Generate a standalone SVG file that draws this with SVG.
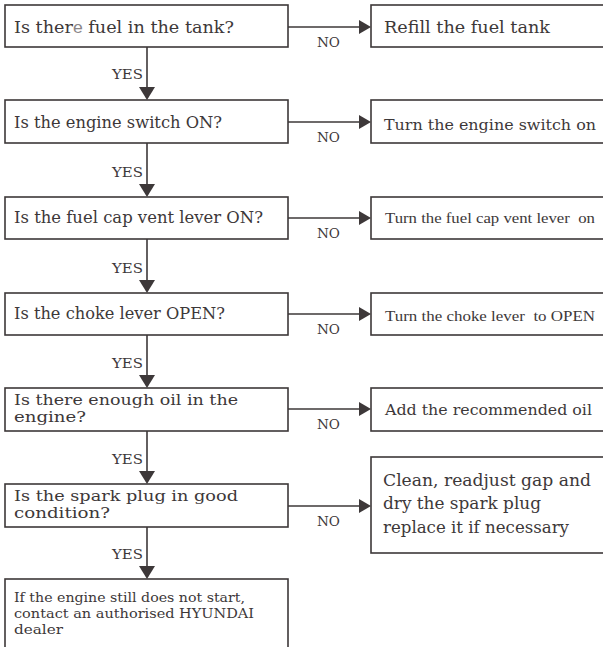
<svg xmlns="http://www.w3.org/2000/svg" width="603" height="647" viewBox="0 0 603 647">
<style>
.box{fill:#fff;stroke:#3d3839;stroke-width:1.6}
.t{font-family:"DejaVu Serif","Liberation Serif",serif;fill:#3d3839;font-size:17px}
.t2{font-family:"DejaVu Serif","Liberation Serif",serif;fill:#3d3839;font-size:14.5px}
.s{font-family:"DejaVu Serif","Liberation Serif",serif;fill:#3d3839;font-size:15px}
.e{font-family:"DejaVu Serif","Liberation Serif",serif;fill:#3d3839;font-size:13.5px}
.n{font-family:"Liberation Serif","DejaVu Serif",serif;fill:#3d3839;font-size:15.5px}
.lab{font-family:"DejaVu Serif","Liberation Serif",serif;fill:#3d3839;font-size:13px}
.ln{stroke:#3d3839;stroke-width:1.6;fill:none}
.hd{fill:#3d3839}
</style>
<rect width="603" height="647" fill="#fff"/>
<g id="connectors">
<path class="ln" d="M147,47 V87"/><path class="hd" d="M139,87 L155,87 L147,100 z"/>
<path class="ln" d="M147,143 V184"/><path class="hd" d="M139,184 L155,184 L147,197 z"/>
<path class="ln" d="M147,239 V280"/><path class="hd" d="M139,280 L155,280 L147,293 z"/>
<path class="ln" d="M147,335 V375"/><path class="hd" d="M139,375 L155,375 L147,388 z"/>
<path class="ln" d="M147,431 V471"/><path class="hd" d="M139,471 L155,471 L147,484 z"/>
<path class="ln" d="M147,527 V566"/><path class="hd" d="M139,566 L155,566 L147,579 z"/>
<path class="ln" d="M288,27 H359"/><path class="hd" d="M359,20 L371,27 L359,34 z"/>
<path class="ln" d="M288,122 H359"/><path class="hd" d="M359,115 L371,122 L359,129 z"/>
<path class="ln" d="M288,218 H359"/><path class="hd" d="M359,211 L371,218 L359,225 z"/>
<path class="ln" d="M288,314 H359"/><path class="hd" d="M359,307 L371,314 L359,321 z"/>
<path class="ln" d="M288,409 H359"/><path class="hd" d="M359,402 L371,409 L359,416 z"/>
<path class="ln" d="M288,506 H359"/><path class="hd" d="M359,499 L371,506 L359,513 z"/>
<text class="lab" x="112" y="79" textLength="31" lengthAdjust="spacingAndGlyphs">YES</text>
<text class="lab" x="112" y="177" textLength="31" lengthAdjust="spacingAndGlyphs">YES</text>
<text class="lab" x="112" y="273" textLength="31" lengthAdjust="spacingAndGlyphs">YES</text>
<text class="lab" x="112" y="368" textLength="31" lengthAdjust="spacingAndGlyphs">YES</text>
<text class="lab" x="112" y="464" textLength="31" lengthAdjust="spacingAndGlyphs">YES</text>
<text class="lab" x="112" y="559" textLength="31" lengthAdjust="spacingAndGlyphs">YES</text>
<text class="lab" x="317" y="47" textLength="23" lengthAdjust="spacingAndGlyphs">NO</text>
<text class="lab" x="317" y="142" textLength="23" lengthAdjust="spacingAndGlyphs">NO</text>
<text class="lab" x="317" y="238" textLength="23" lengthAdjust="spacingAndGlyphs">NO</text>
<text class="lab" x="317" y="334" textLength="23" lengthAdjust="spacingAndGlyphs">NO</text>
<text class="lab" x="317" y="429" textLength="23" lengthAdjust="spacingAndGlyphs">NO</text>
<text class="lab" x="317" y="526" textLength="23" lengthAdjust="spacingAndGlyphs">NO</text>
</g>
<g id="q1"><rect class="box" x="5" y="5" width="283" height="42"/>
<text class="t" x="14" y="33" textLength="220" lengthAdjust="spacingAndGlyphs">Is ther<tspan fill="#8a8688" font-family="'Liberation Sans',sans-serif">e</tspan> fuel in the tank?</text></g>
<g id="a1"><rect class="box" x="371" y="5" width="245" height="42"/>
<text class="t" x="384" y="33" textLength="166" lengthAdjust="spacingAndGlyphs">Refill the fuel tank</text></g>
<g id="q2"><rect class="box" x="5" y="100" width="283" height="43"/>
<text class="t" x="14" y="128" textLength="208" lengthAdjust="spacingAndGlyphs">Is the engine switch ON?</text></g>
<g id="a2"><rect class="box" x="371" y="100" width="245" height="43"/>
<text class="s" x="384" y="130" textLength="212" lengthAdjust="spacingAndGlyphs">Turn the engine switch on</text></g>
<g id="q3"><rect class="box" x="5" y="197" width="283" height="42"/>
<text class="t" x="14" y="223" textLength="249" lengthAdjust="spacingAndGlyphs">Is the fuel cap vent lever ON?</text></g>
<g id="a3"><rect class="box" x="371" y="197" width="245" height="42"/>
<text class="n" x="385" y="223" xml:space="preserve" textLength="210" lengthAdjust="spacingAndGlyphs">Turn the fuel cap vent lever  on</text></g>
<g id="q4"><rect class="box" x="5" y="293" width="283" height="42"/>
<text class="t" x="14" y="319" textLength="211" lengthAdjust="spacingAndGlyphs">Is the choke lever OPEN?</text></g>
<g id="a4"><rect class="box" x="371" y="293" width="245" height="42"/>
<text class="n" x="385" y="321" xml:space="preserve" textLength="210" lengthAdjust="spacingAndGlyphs">Turn the choke lever  to OPEN</text></g>
<g id="q5"><rect class="box" x="5" y="388" width="283" height="43"/>
<text class="t2" x="14" y="405" textLength="224" lengthAdjust="spacingAndGlyphs">Is there enough oil in the</text>
<text class="t2" x="14" y="422" textLength="72" lengthAdjust="spacingAndGlyphs">engine?</text></g>
<g id="a5"><rect class="box" x="371" y="388" width="245" height="43"/>
<text class="s" x="385" y="415" textLength="207" lengthAdjust="spacingAndGlyphs">Add the recommended oil</text></g>
<g id="q6"><rect class="box" x="5" y="484" width="283" height="43"/>
<text class="t2" x="14" y="501" textLength="224" lengthAdjust="spacingAndGlyphs">Is the spark plug in good</text>
<text class="t2" x="14" y="518" textLength="96" lengthAdjust="spacingAndGlyphs">condition?</text></g>
<g id="a6"><rect class="box" x="371" y="457" width="245" height="96"/>
<text class="t" x="383" y="486" textLength="208" lengthAdjust="spacingAndGlyphs">Clean, readjust gap and</text>
<text class="t" x="383" y="509" textLength="158" lengthAdjust="spacingAndGlyphs">dry the spark plug</text>
<text class="t" x="383" y="533" textLength="186" lengthAdjust="spacingAndGlyphs">replace it if necessary</text></g>
<g id="end"><rect class="box" x="5" y="579" width="283" height="80"/>
<text class="e" x="14" y="602" textLength="231" lengthAdjust="spacingAndGlyphs">If the engine still does not start,</text>
<text class="e" x="14" y="618" textLength="240" lengthAdjust="spacingAndGlyphs">contact an authorised HYUNDAI</text>
<text class="e" x="14" y="634" textLength="49" lengthAdjust="spacingAndGlyphs">dealer</text></g>
</svg>
